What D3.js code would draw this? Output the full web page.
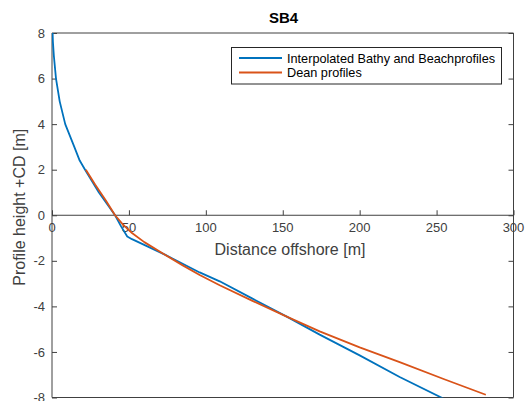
<!DOCTYPE html>
<html>
<head>
<meta charset="utf-8">
<script src="https://cdn.jsdelivr.net/npm/d3@7"></script>
<style>
  html, body { margin: 0; padding: 0; background: #fff; }
  svg { display: block; font-family: "Liberation Sans", Arial, sans-serif; }
</style>
</head>
<body>
<svg id="chart" width="525" height="401"></svg>
<script>
// Measured bathymetry / beach profile (distance offshore [m], height +CD [m])
const bathyDist   = [0.4, 0.6, 1.2, 2.6, 5.0, 8.6, 14.5, 18, 21.5, 30.5, 41, 45, 48.9, 52, 73.4, 96, 109, 130, 152.6, 174, 200, 226, 256];
const bathyHeight = [8.0, 7.6, 7.0, 6.0, 5.0, 4.0, 3.0, 2.4, 2.0, 1.0, 0.0, -0.5, -0.93, -1.05, -1.73, -2.51, -2.9, -3.65, -4.45, -5.24, -6.15, -7.1, -8.1];

// Fitted Dean equilibrium profile
const deanDist   = [22, 28, 35, 41, 46, 52, 60, 73.4, 85, 96, 109, 130, 152.6, 174, 200, 226, 255, 282];
const deanHeight = [2.0, 1.35, 0.65, 0.0, -0.4, -0.78, -1.18, -1.73, -2.2, -2.62, -3.07, -3.75, -4.45, -5.1, -5.8, -6.45, -7.2, -7.88];

const xTicks = [0, 50, 100, 150, 200, 250, 300];
const yTicks = [-8, -6, -4, -2, 0, 2, 4, 6, 8];

const seriesNames = ["Interpolated Bathy and Beachprofiles", "Dean profiles"];
const seriesColors = ["#0072BD", "#D95319"];

const svg = d3.select("#chart");
const plotL = 52, plotR = 513.5, plotT = 33, plotB = 397.5;
const axisColor = "#404040";

const x = d3.scaleLinear().domain([0, 300]).range([plotL, plotR]);
const y = d3.scaleLinear().domain([-8, 8]).range([plotB, plotT]);

svg.append("defs").append("clipPath").attr("id", "plotClip")
  .append("rect").attr("x", plotL).attr("y", plotT).attr("width", plotR - plotL).attr("height", plotB - plotT);

// Box edges: top and bottom
svg.append("line").attr("x1", plotL).attr("x2", plotR).attr("y1", plotT).attr("y2", plotT)
  .attr("stroke", axisColor).attr("stroke-width", 1);
svg.append("line").attr("x1", plotL).attr("x2", plotR).attr("y1", plotB).attr("y2", plotB)
  .attr("stroke", axisColor).attr("stroke-width", 1);

// Left y axis, ticks pointing inward
const yAxisL = svg.append("g").attr("transform", `translate(${plotL},0)`)
  .call(d3.axisRight(y).tickValues(yTicks).tickSize(5).tickFormat(""));
yAxisL.selectAll("path,line").attr("stroke", axisColor);
yAxisL.select(".domain").attr("d", `M0,${plotT}V${plotB}`);
svg.append("g").selectAll("text").data(yTicks).join("text")
  .attr("x", plotL - 7).attr("y", d => y(d)).attr("dy", "0.36em")
  .attr("text-anchor", "end").attr("font-size", 13).attr("fill", axisColor)
  .text(d => d);

// Right y axis, ticks pointing inward
const yAxisR = svg.append("g").attr("transform", `translate(${plotR},0)`)
  .call(d3.axisLeft(y).tickValues(yTicks).tickSize(5).tickFormat(""));
yAxisR.selectAll("path,line").attr("stroke", axisColor);
yAxisR.select(".domain").attr("d", `M0,${plotT}V${plotB}`);

// x axis drawn through the origin
const xAxis = svg.append("g").attr("transform", `translate(0,${y(0)})`)
  .call(d3.axisTop(x).tickValues(xTicks).tickSize(5).tickFormat(""));
xAxis.selectAll("path,line").attr("stroke", axisColor);
xAxis.select(".domain").attr("d", `M${plotL},0H${plotR}`);
svg.append("g").selectAll("text").data(xTicks).join("text")
  .attr("x", d => x(d)).attr("y", y(0) + 17)
  .attr("text-anchor", "middle").attr("font-size", 13).attr("fill", axisColor)
  .text(d => d);

// Profiles
const line = d3.line().x(d => x(d[0])).y(d => y(d[1]));
const plot = svg.append("g").attr("clip-path", "url(#plotClip)");
plot.append("path").datum(d3.zip(bathyDist, bathyHeight))
  .attr("d", line).attr("fill", "none").attr("stroke", seriesColors[0]).attr("stroke-width", 1.8)
  .attr("stroke-linejoin", "round");
plot.append("path").datum(d3.zip(deanDist, deanHeight))
  .attr("d", line).attr("fill", "none").attr("stroke", seriesColors[1]).attr("stroke-width", 1.8)
  .attr("stroke-linejoin", "round");

// Axis labels and title
svg.append("text").attr("x", 290).attr("y", y(0) + 40)
  .attr("text-anchor", "middle").attr("font-size", 16).attr("fill", axisColor)
  .text("Distance offshore [m]");
svg.append("text").attr("transform", `translate(25,${(plotT + plotB) / 2 - 8}) rotate(-90)`)
  .attr("text-anchor", "middle").attr("font-size", 16).attr("fill", axisColor)
  .text("Profile height +CD [m]");
svg.append("text").attr("x", 283.5).attr("y", 23)
  .attr("text-anchor", "middle").attr("font-size", 15).attr("font-weight", "bold").attr("fill", "#000")
  .text("SB4");

// Legend
const lg = svg.append("g");
lg.append("rect").attr("x", 231.5).attr("y", 47.5).attr("width", 270).attr("height", 36.5)
  .attr("fill", "#fff").attr("stroke", "#262626").attr("stroke-width", 1);
seriesNames.forEach((name, i) => {
  const cy = 58 + i * 14.5;
  lg.append("line").attr("x1", 239).attr("x2", 282).attr("y1", cy).attr("y2", cy)
    .attr("stroke", seriesColors[i]).attr("stroke-width", 1.8);
  lg.append("text").attr("x", 287).attr("y", cy).attr("dy", "0.36em")
    .attr("font-size", 12.7).attr("fill", "#000").text(name);
});
</script>
</body>
</html>
